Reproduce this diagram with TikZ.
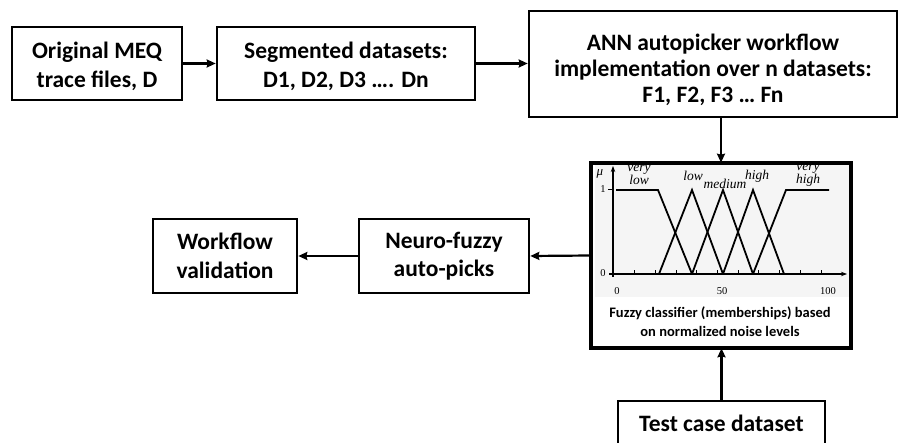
\documentclass[tikz,border=0pt]{standalone}
\usepackage{fontspec}
\setmainfont{Carlito}
\newfontfamily\plotfont{Liberation Serif}
\usetikzlibrary{arrows.meta}
\tikzset{
  box/.style={draw=black, line width=2.6pt, fill=white, align=center, inner sep=0pt,
    font=\fontsize{23.5}{29}\selectfont\bfseries},
  conn/.style={line width=2.2pt, -{Stealth[length=9pt,width=8pt,inset=1pt]}},
  curve/.style={line width=1.8pt, line join=miter},
  axis/.style={line width=1.3pt},
  mlabel/.style={font=\plotfont\itshape\fontsize{13.5}{11}\selectfont, align=center, inner sep=0pt},
  nlabel/.style={font=\plotfont\fontsize{10.5}{12}\selectfont, inner sep=0pt},
}
\begin{document}
\begin{tikzpicture}[x=1pt,y=-1pt]
\useasboundingbox (0,0) rectangle (903,443);
% boxes
\node[box, minimum width=170pt, minimum height=73pt] (b1) at (97,63.5) {};
\node[align=center, font=\fontsize{23.5}{29}\selectfont\bfseries, inner sep=0pt] (b1t) at (97,66) {Original MEQ\\trace files, D};
\node[box, minimum width=258pt, minimum height=73pt] (b2) at (346,63.5) {};
\node[align=center, font=\fontsize{23.5}{29}\selectfont\bfseries, inner sep=0pt] (b2t) at (346,66) {Segmented datasets:\\D1, D2, D3 \dots. Dn};
\node[box, minimum width=368pt, minimum height=106pt] (b3) at (713,64) {};
\node[align=center, font=\fontsize{23.5}{26}\selectfont\bfseries, inner sep=0pt] (b3t) at (713,70) {ANN autopicker workflow\\implementation over n datasets:\\F1, F2, F3 \dots{} Fn};
\node[box, minimum width=258pt, minimum height=183pt] (fz) at (721,255.5) {};
\node[box, minimum width=170pt, minimum height=74pt, font=\fontsize{23.5}{28.5}\selectfont\bfseries] (nf) at (444,256) {Neuro-fuzzy\\auto-picks};
\node[box, minimum width=144pt, minimum height=74pt, font=\fontsize{23.5}{28.5}\selectfont\bfseries] (wf) at (225,256) {Workflow\\validation};
\node[box, minimum width=207pt, minimum height=45pt] (tc) at (721.5,423.5) {Test case dataset};
% plot background
\fill[gray!8] (594.5,165.5) rectangle (848.5,297);
% axes
\draw[axis, -{Stealth[length=6pt,width=4.5pt]}] (613,277) -- (613,166);
\draw[axis, -{Stealth[length=6pt,width=4.5pt]}] (609,274) -- (847,274);
\draw[axis] (608,189.5) -- (613,189.5);
\foreach \k in {1,...,10} \draw[line width=1pt] ({614+20.7*\k},270.5) -- ({614+20.7*\k},274);
\node[nlabel] (y1) at (603,189) {1};
\node[nlabel] (y0) at (603,273) {0};
\node[nlabel] (x0) at (617,291) {0};
\node[nlabel] (x50) at (722,291) {50};
\node[nlabel] (x100) at (828,291) {100};
\node[font=\plotfont\itshape\fontsize{13}{13}\selectfont, inner sep=0pt] (mu) at (600,174) {μ};
% membership functions
\draw[curve] (616,190) -- (658,190) -- (692,274);
\draw[curve] (659,274) -- (692,190) -- (723,274);
\draw[curve] (692,274) -- (723,190) -- (753,274);
\draw[curve] (723,274) -- (753,190) -- (784,274);
\draw[curve] (753,274) -- (786,190) -- (829,190);
\node[mlabel] (lvl) at (639,175) {very\\low};
\node[mlabel] (ll) at (693,176) {low};
\node[mlabel] (lm) at (725,184) {medium};
\node[mlabel] (lh) at (757,176) {high};
\node[mlabel] (lvh) at (808,175) {very\\high};
\node[font=\fontsize{14.5}{19}\selectfont\bfseries, align=center, inner sep=0pt] (cap) at (720,322) {Fuzzy classifier (memberships) based\\on normalized noise levels};
% redraw fuzzy border on top
\draw[line width=2.6pt] (fz.north west) rectangle (fz.south east);
% connectors
\draw[conn] (b1.east) -- (b2.west);
\draw[conn] (b2.east) -- (b2.east -| b3.west);
\draw[conn] (fz.north |- b3.south) -- (fz.north);
\draw[conn] (fz.west) -- (nf.east);
\draw[conn] (nf.west) -- (wf.east);
\draw[conn] (tc.north) -- (tc.north |- fz.south);
\end{tikzpicture}
\end{document}
